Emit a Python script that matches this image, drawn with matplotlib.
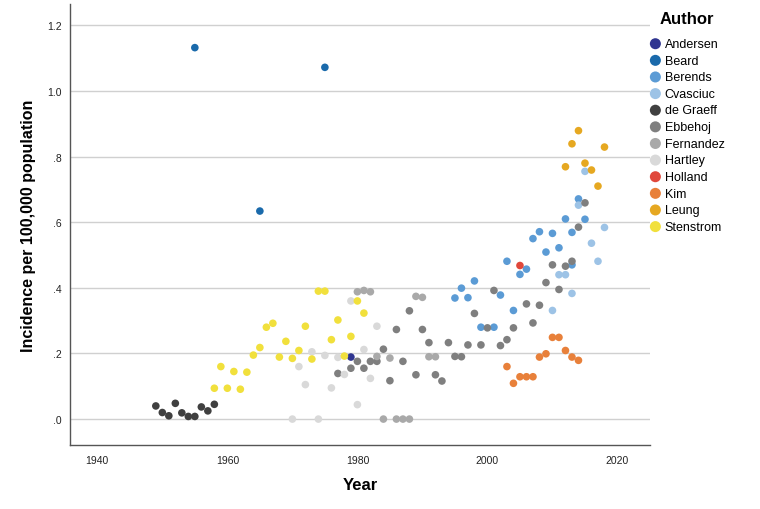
import matplotlib
matplotlib.use("Agg")
import matplotlib.pyplot as plt

plt.rcParams['font.family'] = ['Liberation Sans', 'DejaVu Sans']

authors = ["Andersen", "Beard", "Berends", "Cvasciuc", "de Graeff", "Ebbehoj",
           "Fernandez", "Hartley", "Holland", "Kim", "Leung", "Stenstrom"]
colors = ["#2f3590", "#1a6aab", "#5b9bd5", "#9dc3e6", "#404040", "#7f7f7f",
          "#a9a9a9", "#d9d9d9", "#e0483b", "#e8803a", "#e6a821", "#f1e03c"]

andersen_years = [1979]
andersen_vals = [0.189]

beard_years = [1955, 1965, 1975]
beard_vals = [1.132, 0.634, 1.072]

berends_years = [1995, 1996, 1997, 1998, 1999, 2001, 2002, 2003, 2004, 2005, 2006,
                 2007, 2008, 2009, 2010, 2011, 2012, 2013, 2013, 2014, 2015]
berends_vals = [0.369, 0.399, 0.370, 0.421, 0.280, 0.280, 0.378, 0.481, 0.331, 0.441,
                0.457, 0.550, 0.571, 0.509, 0.566, 0.522, 0.610, 0.569, 0.470, 0.671, 0.609]

cvasciuc_years = [2010, 2011, 2012, 2013, 2014, 2015, 2016, 2017, 2018]
cvasciuc_vals = [0.331, 0.440, 0.440, 0.383, 0.652, 0.755, 0.536, 0.481, 0.584]

degraeff_years = [1949, 1950, 1951, 1952, 1953, 1954, 1955, 1956, 1957, 1958]
degraeff_vals = [0.040, 0.020, 0.010, 0.048, 0.019, 0.008, 0.008, 0.037, 0.025, 0.045]

ebbehoj_years = [1977, 1979, 1980, 1981, 1982, 1983, 1984, 1985, 1986, 1987, 1988,
                 1989, 1990, 1991, 1992, 1993, 1994, 1995, 1996, 1997, 1998, 1999,
                 2000, 2001, 2002, 2003, 2004, 2006, 2007, 2008, 2009, 2010, 2011,
                 2012, 2013, 2014, 2015]
ebbehoj_vals = [0.139, 0.155, 0.176, 0.155, 0.176, 0.176, 0.213, 0.117, 0.273, 0.176,
                0.330, 0.135, 0.273, 0.233, 0.135, 0.116, 0.233, 0.191, 0.190, 0.226,
                0.322, 0.226, 0.278, 0.392, 0.224, 0.242, 0.278, 0.351, 0.293, 0.347,
                0.416, 0.470, 0.395, 0.466, 0.481, 0.585, 0.659]

fernandez_years = [1980, 1981, 1982, 1983, 1984, 1985, 1986, 1987, 1988, 1989, 1990,
                   1991, 1992]
fernandez_vals = [0.388, 0.392, 0.388, 0.191, 0.0, 0.186, 0.0, 0.0, 0.0, 0.374, 0.371,
                  0.190, 0.190]

hartley_years = [1970, 1971, 1972, 1973, 1974, 1975, 1976, 1977, 1978, 1979, 1980,
                 1981, 1982, 1983]
hartley_vals = [0.0, 0.160, 0.105, 0.205, 0.0, 0.194, 0.095, 0.188, 0.136, 0.360,
                0.044, 0.212, 0.124, 0.283]

holland_years = [2005]
holland_vals = [0.468]

kim_years = [2003, 2004, 2005, 2006, 2007, 2008, 2009, 2010, 2011, 2012, 2013, 2014]
kim_vals = [0.160, 0.109, 0.129, 0.129, 0.129, 0.189, 0.199, 0.249, 0.249, 0.209,
            0.189, 0.179]

leung_years = [2012, 2013, 2014, 2015, 2016, 2017, 2018]
leung_vals = [0.769, 0.839, 0.879, 0.780, 0.759, 0.710, 0.829]

stenstrom_years = list(range(1958, 1982))
stenstrom_vals = [0.094, 0.160, 0.094, 0.145, 0.091, 0.143, 0.195, 0.218, 0.280, 0.292,
                  0.189, 0.237, 0.185, 0.209, 0.283, 0.183, 0.390, 0.390, 0.242, 0.302,
                  0.192, 0.252, 0.360, 0.323]

series = [
    (andersen_years, andersen_vals),
    (beard_years, beard_vals),
    (berends_years, berends_vals),
    (cvasciuc_years, cvasciuc_vals),
    (degraeff_years, degraeff_vals),
    (ebbehoj_years, ebbehoj_vals),
    (fernandez_years, fernandez_vals),
    (hartley_years, hartley_vals),
    (holland_years, holland_vals),
    (kim_years, kim_vals),
    (leung_years, leung_vals),
    (stenstrom_years, stenstrom_vals),
]

xticks = [1940, 1960, 1980, 2000, 2020]
yticks = [0.0, 0.2, 0.4, 0.6, 0.8, 1.0, 1.2]
ytick_labels = [".0", ".2", ".4", ".6", ".8", "1.0", "1.2"]

fig = plt.figure(figsize=(7.6, 5.1), dpi=100)
ax = fig.add_axes([70 / 760, 1 - 446 / 510, (650 - 70) / 760, (446 - 5) / 510])

for name, col, (xs, ys) in zip(authors, colors, series):
    ax.scatter(xs, ys, s=30, color=col, edgecolors='none', label=name, zorder=3)

ax.set_xlim(1935.8, 2025.0)
ax.set_ylim(-0.079, 1.265)
ax.set_xticks(xticks)
ax.set_yticks(yticks)
ax.set_yticklabels(ytick_labels)
ax.tick_params(axis='both', length=0, labelsize=7.5, colors='#222222', pad=6)
ax.tick_params(axis='x', pad=7)
ax.yaxis.grid(True, color='#d0d0d0', linewidth=1.0)
ax.xaxis.grid(False)
ax.set_axisbelow(True)
for side in ['top', 'right']:
    ax.spines[side].set_visible(False)
for side in ['left', 'bottom']:
    ax.spines[side].set_color('#555555')
    ax.spines[side].set_linewidth(1.0)

ax.set_xlabel("Year", fontsize=12, fontweight='bold', labelpad=9)
ax.set_ylabel("Incidence per 100,000 population", fontsize=11.5, fontweight='bold', labelpad=8)

fig.text(687 / 760, 1 - 19 / 510, "Author", ha='center', va='center',
         fontsize=12, fontweight='bold')
leg = fig.legend(loc='upper left', bbox_to_anchor=(641 / 760, 1 - 34 / 510), frameon=False,
                 fontsize=9, markerscale=1.45, handletextpad=0.0, labelspacing=0.37,
                 borderaxespad=0, handlelength=1.5)

fig.savefig("out.png", dpi=100)
